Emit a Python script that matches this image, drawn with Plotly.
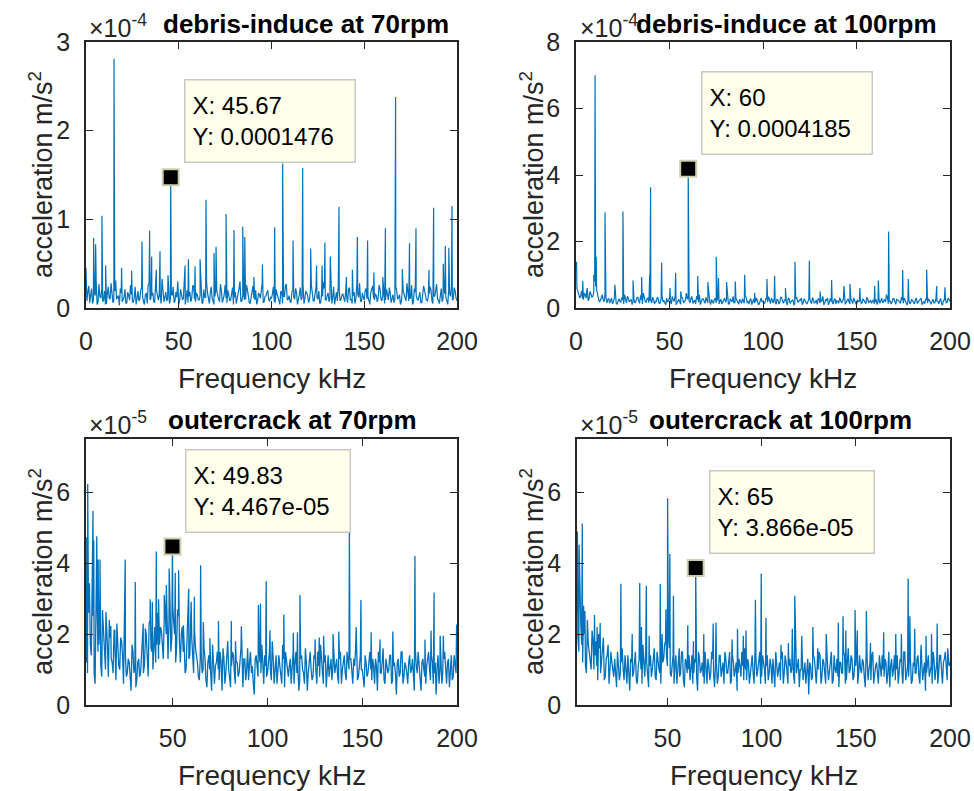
import numpy as np
import plotly.graph_objects as go

W, H = 974, 791
FONT = "Liberation Sans, Arial, Helvetica, sans-serif"
LINE_COLOR = "#0072BD"
AX_COLOR = "#262626"

# ------------------------------------------------------------------ data
# Spectra on a 0.5 kHz grid: "base" values sit on whole
# kHz, "mid" values on the half kHz, plus the tall individual peaks.
# Values are in hundredths of the axis unit (1e-4 top row, 1e-5 bottom row).
tl_f0 = 0
tl_base_centi = [
    45, 18, 6, 22, 9, 14, 4, 27, 11, 7, 19, 5, 24, 10, 16, 8, 31, 12, 3, 17,
    9, 21, 6, 14, 26, 8, 12, 4, 19, 10, 23, 7, 15, 5, 28, 11, 17, 6, 20, 9,
    13, 33, 7, 18, 10, 5, 16, 24, 8, 12, 4, 21, 9, 27, 14, 6, 18, 11, 25, 7,
    15, 9, 20, 5, 12, 29, 8, 17, 11, 4, 22, 13, 7, 19, 10, 26, 6, 14, 9, 23,
    12, 5, 18, 30, 8, 15, 10, 21, 6, 13, 25, 9, 4, 17, 11, 28, 7, 14, 20, 8,
    11, 24, 6, 16, 9, 19, 5, 13, 27, 10, 7, 18, 12, 22, 4, 15, 9, 26, 11, 17,
    6, 20, 13, 8, 24, 10, 5, 16, 29, 9, 14, 7, 21, 12, 4, 18, 25, 8, 15, 11,
    19, 6, 23, 10, 14, 5, 27, 12, 8, 17, 9, 22, 13, 4, 20, 11, 16, 7, 26, 10,
    14, 5, 21, 9, 17, 12, 6, 24, 10, 15, 7, 19, 13, 28, 8, 11, 4, 22, 14, 9,
    18, 6, 25, 11, 8, 16, 20, 5, 13, 27, 9, 15, 7, 21, 12, 4, 17, 24, 10, 19,
    8]
tl_mid_centi = [
    8, 25, 12, 5, 17, 30, 7, 13, 21, 9, 4, 16, 11, 28, 6, 19, 10, 14, 22, 7,
    12, 5, 18, 9, 15, 6, 24, 11, 8, 20, 13, 4, 17, 26, 9, 14, 7, 22, 11, 16,
    5, 19, 12, 8, 23, 10, 14, 6, 18, 30, 9, 15, 11, 4, 20, 13, 7, 25, 10, 17,
    9, 14, 6, 21, 12, 17, 5, 24, 8, 13, 19, 10, 27, 6, 15, 11, 20, 8, 16, 4,
    18, 10, 22, 7, 14, 9, 26, 12, 5, 17, 11, 20, 8, 15, 24, 6, 13, 19, 9, 12,
    16, 7, 21, 11, 4, 18, 13, 25, 9, 14, 6, 20, 10, 17, 8, 23, 12, 5, 19, 14,
    10, 26, 8, 15, 12, 19, 6, 13, 22, 9, 17, 11, 5, 24, 14, 8, 20, 10, 16, 7,
    13, 21, 9, 5, 18, 11, 15, 28, 7, 12, 20, 10, 6, 17, 25, 9, 14, 11, 22, 8,
    17, 9, 13, 23, 6, 15, 10, 19, 12, 4, 21, 14, 8, 16, 11, 26, 7, 18, 10, 13,
    6, 15, 20, 9, 12, 24, 8, 14, 18, 10, 5, 22, 11, 16, 7, 19, 13, 9, 23, 11]
tl_peak_f = [4.1, 5.2, 8.6, 10.6, 15.1, 19.2, 24.6, 30.2, 34.3, 35.4,
             37.9, 39.9, 44.2, 45.67, 53.4, 55.2, 58.8, 61.5, 64.7, 69.0,
             70.1, 75.5, 79.8, 84.5, 85.6, 90.5, 95.1, 101.7, 106.0, 111.6,
             116.8, 121.1, 124.3, 127.3, 128.8, 131.7, 136.4, 140.4, 143.6, 146.3,
             151.8, 155.2, 160.0, 161.4, 166.9, 170.5, 174.4, 177.9, 184.9, 187.4,
             192.6, 193.7, 195.6, 197.3]
tl_peak_v = [0.79, 0.72, 1.04, 0.48, 2.81, 0.45, 0.42, 0.75, 0.87, 0.58,
             0.43, 0.64, 0.37, 1.476, 0.48, 0.55, 0.47, 0.55, 1.22, 0.62,
             0.69, 1.06, 0.88, 0.92, 0.80, 0.35, 0.49, 0.91, 1.63, 0.76,
             1.58, 0.67, 0.48, 0.48, 0.74, 0.58, 1.14, 0.35, 0.43, 0.80,
             0.76, 0.40, 0.35, 0.90, 2.38, 0.44, 0.73, 0.90, 0.43, 1.13,
             0.50, 0.70, 0.68, 1.15]

tr_f0 = 0
tr_base_centi = [
    120, 45, 30, 52, 25, 38, 60, 28, 42, 35, 80, 55, 30, 22, 40, 18, 33, 26, 15, 30,
    20, 35, 12, 28, 18, 24, 40, 15, 30, 22, 10, 26, 19, 33, 14, 25, 45, 20, 28, 16,
    24, 32, 12, 20, 27, 15, 35, 22, 10, 18, 29, 14, 24, 38, 17, 26, 11, 30, 20, 45,
    28, 16, 34, 20, 12, 25, 40, 18, 27, 14, 22, 31, 10, 19, 26, 15, 33, 21, 12, 24,
    17, 30, 13, 22, 35, 16, 25, 11, 20, 28, 14, 32, 19, 24, 10, 27, 18, 23, 12, 30,
    21, 15, 26, 34, 13, 20, 29, 11, 24, 17, 31, 14, 22, 9, 27, 19, 25, 12, 33, 18,
    23, 10, 28, 16, 21, 30, 13, 24, 18, 11, 26, 20, 35, 14, 22, 9, 29, 17, 24, 12,
    20, 31, 15, 26, 11, 22, 18, 28, 13, 24, 9, 19, 30, 16, 23, 12, 27, 20, 14, 25,
    18, 10, 29, 22, 15, 26, 40, 13, 21, 17, 28, 11, 24, 19, 32, 14, 23, 9, 27, 16,
    22, 12, 30, 18, 25, 10, 20, 28, 15, 23, 11, 26, 17, 21, 13, 29, 9, 24, 16, 30,
    20]
tr_mid_centi = [
    60, 40, 35, 28, 45, 30, 22, 50, 33, 48, 65, 35, 18, 30, 25, 40, 15, 28, 22, 12,
    28, 14, 25, 20, 32, 12, 22, 35, 18, 26, 20, 15, 30, 22, 38, 12, 24, 16, 30, 22,
    15, 26, 20, 33, 14, 28, 18, 12, 30, 24, 16, 35, 20, 10, 25, 18, 32, 15, 22, 28,
    20, 30, 14, 24, 36, 17, 10, 28, 22, 32, 15, 20, 26, 14, 30, 22, 12, 26, 18, 30,
    25, 12, 28, 18, 15, 30, 20, 26, 14, 22, 35, 17, 12, 28, 20, 15, 30, 11, 25, 19,
    13, 28, 18, 22, 30, 15, 20, 26, 12, 32, 20, 25, 16, 30, 14, 22, 10, 28, 20, 24,
    30, 16, 20, 12, 26, 18, 32, 14, 24, 28, 15, 22, 10, 26, 30, 17, 20, 12, 28, 22,
    14, 24, 20, 32, 17, 28, 12, 22, 30, 16, 25, 20, 14, 28, 18, 32, 15, 24, 20, 12,
    26, 20, 14, 30, 24, 18, 32, 20, 12, 28, 16, 26, 20, 14, 24, 30, 16, 20, 12, 25,
    18, 26, 14, 22, 30, 16, 12, 24, 28, 18, 22, 14, 30, 20, 26, 12, 22, 28, 18, 24]
tr_peak_f = [0.3, 3.6, 5.7, 9.5, 10.2, 10.8, 15.5, 20.8, 25.1, 30.5,
             35.1, 39.4, 39.9, 45.8, 50.3, 53.3, 56.0, 60.0, 65.1, 70.5,
             75.0, 76.2, 80.5, 85.2, 90.2, 95.5, 102.1, 106.2, 112.0, 117.1,
             124.8, 130.5, 136.7, 143.3, 146.5, 151.8, 159.7, 161.7, 167.2, 174.7,
             177.7, 187.5, 192.9, 197.3]
tr_peak_v = [1.39, 0.82, 0.50, 1.00, 7.00, 1.54, 2.88, 0.70, 2.90, 0.83,
             0.93, 1.00, 3.63, 1.36, 0.60, 1.06, 0.50, 4.185, 0.96, 0.78,
             1.54, 0.90, 0.78, 0.80, 1.00, 0.45, 0.87, 0.97, 0.60, 1.39,
             1.42, 0.50, 0.84, 0.66, 0.72, 0.60, 0.66, 0.83, 2.30, 1.14,
             0.87, 1.16, 0.66, 0.62]

bl_f0 = 4
bl_base_centi = [
    210, 90, 300, 140, 250, 60, 320, 170, 110, 260,
    150, 230, 80, 190, 120, 210, 70, 160, 100, 180,
    60, 140, 90, 120, 40, 150, 110, 70, 130, 90,
    170, 110, 200, 80, 240, 150, 190, 120, 260, 170,
    210, 130, 270, 180, 240, 150, 280, 200, 160, 250,
    120, 220, 170, 100, 230, 140, 190, 90, 160, 120,
    70, 150, 100, 130, 50, 140, 90, 170, 60, 120,
    100, 150, 40, 130, 90, 180, 70, 110, 140, 60,
    120, 90, 160, 50, 130, 100, 70, 150, 110, 30,
    140, 80, 120, 170, 60, 110, 90, 150, 70, 130,
    100, 60, 140, 90, 170, 50, 120, 80, 130, 100,
    60, 150, 110, 70, 140, 90, 160, 40, 120, 100,
    80, 130, 60, 110, 170, 90, 120, 50, 140, 100,
    70, 160, 110, 80, 130, 60, 120, 90, 150, 100,
    130, 60, 110, 170, 80, 140, 100, 50, 120, 90,
    150, 70, 110, 130, 40, 120, 90, 160, 60, 110,
    100, 140, 70, 120, 30, 130, 90, 150, 80, 110,
    60, 140, 100, 70, 160, 90, 120, 40, 130, 80,
    110, 150, 70, 120, 90, 30, 140, 100, 60, 130,
    90, 120, 50, 140, 80, 110, 150]
bl_mid_centi = [
    120, 260, 170, 330, 90, 280, 150, 240, 80, 190,
    100, 170, 240, 130, 90, 160, 230, 110, 190, 140,
    200, 80, 130, 60, 170, 90, 50, 120, 80, 150,
    90, 180, 130, 230, 160, 100, 220, 170, 130, 220,
    170, 250, 200, 130, 300, 190, 230, 120, 270, 180,
    200, 150, 90, 180, 130, 250, 110, 210, 140, 80,
    130, 90, 160, 70, 120, 100, 40, 130, 110, 150,
    70, 120, 160, 60, 140, 100, 50, 150, 90, 120,
    80, 140, 100, 130, 70, 160, 120, 90, 60, 130,
    110, 160, 90, 120, 140, 80, 130, 100, 180, 60,
    140, 90, 110, 60, 130, 150, 90, 110, 60, 150,
    120, 90, 40, 130, 100, 60, 120, 90, 150, 70,
    140, 100, 150, 80, 120, 60, 140, 100, 80, 130,
    110, 90, 130, 60, 150, 100, 140, 70, 110, 130,
    90, 130, 160, 70, 120, 100, 60, 140, 80, 120,
    100, 130, 60, 110, 150, 90, 120, 70, 130, 90,
    140, 60, 110, 90, 120, 80, 150, 60, 120, 90,
    120, 90, 130, 40, 110, 150, 80, 120, 100, 60,
    130, 100, 140, 60, 120, 110, 60, 130, 90, 150,
    60, 130, 100, 70, 140, 90]
bl_peak_f = [4.3, 4.6, 5.1, 6.0, 7.9, 8.3, 9.9, 10.6, 11.6, 12.9,
             14.7, 17.3, 19.4, 24.9, 30.2, 34.4, 35.5, 38.1, 39.2, 41.3,
             42.5, 45.5, 46.6, 48.1, 49.83, 51.3, 53.1, 55.6, 58.4, 59.7,
             61.4, 64.7, 66.1, 69.6, 74.1, 80.9, 83.1, 86.2, 95.2, 96.3,
             99.3, 101.3, 108.6, 113.6, 115.8, 117.1, 125.1, 127.3, 129.6, 134.6,
             137.6, 143.2, 146.8, 149.3, 154.7, 159.4, 166.1, 177.8, 183.1, 186.3,
             187.9, 191.1, 192.8, 199.8]
bl_peak_v = [2.96, 4.73, 6.23, 3.43, 5.47, 4.63, 4.76, 4.10, 4.10, 2.68,
             2.63, 2.23, 2.11, 4.10, 3.47, 2.30, 2.16, 2.98, 2.91, 4.33,
             2.98, 3.10, 3.38, 3.85, 4.467, 3.73, 3.80, 2.25, 3.28, 2.91,
             3.05, 3.94, 2.34, 1.88, 2.37, 2.37, 1.80, 2.22, 2.82, 2.86,
             3.49, 2.11, 2.55, 2.04, 2.05, 3.10, 1.85, 1.90, 1.95, 2.00,
             2.07, 4.88, 2.20, 2.96, 2.05, 1.85, 2.07, 4.20, 1.85, 2.10,
             3.17, 1.95, 1.95, 2.27]

br_f0 = 2
br_base_centi = [
    260, 150, 230, 120, 200, 90, 170, 130, 210, 100,
    180, 70, 160, 120, 190, 80, 140, 60, 150, 100,
    130, 50, 120, 90, 160, 70, 110, 140, 40, 120,
    90, 150, 60, 130, 100, 170, 80, 120, 50, 140,
    100, 160, 70, 120, 90, 150, 130, 180, 110, 160,
    80, 140, 110, 60, 130, 90, 150, 50, 120, 100,
    70, 140, 90, 120, 40, 130, 100, 80, 150, 60,
    110, 90, 130, 50, 120, 80, 140, 100, 60, 130,
    90, 150, 70, 120, 100, 40, 130, 80, 110, 160,
    70, 120, 90, 140, 60, 130, 100, 150, 80, 120,
    60, 140, 90, 110, 130, 50, 120, 100, 70, 150,
    90, 120, 60, 130, 100, 80, 140, 110, 50, 100,
    70, 120, 90, 30, 110, 80, 130, 60, 100, 140,
    80, 120, 60, 110, 90, 150, 70, 100, 130, 50,
    120, 90, 140, 70, 160, 100, 130, 80, 110, 60,
    140, 90, 120, 50, 130, 100, 70, 150, 90, 120,
    60, 110, 140, 80, 120, 90, 50, 130, 100, 70,
    140, 90, 120, 60, 150, 100, 80, 130, 70, 110,
    90, 140, 60, 120, 100, 40, 130, 80, 110, 150,
    70, 120, 90, 140, 60, 130, 100, 150, 120]
br_mid_centi = [
    190, 320, 170, 280, 110, 240, 150, 100, 180, 140,
    110, 200, 90, 150, 70, 130, 170, 100, 120, 80,
    90, 150, 70, 120, 100, 140, 60, 90, 130, 80,
    130, 70, 110, 150, 60, 120, 160, 90, 110, 80,
    130, 80, 150, 100, 60, 120, 170, 140, 200, 90,
    120, 60, 140, 100, 80, 150, 70, 130, 90, 140,
    110, 60, 130, 80, 150, 90, 120, 60, 110, 130,
    70, 150, 90, 110, 60, 140, 80, 120, 150, 90,
    120, 60, 140, 80, 120, 90, 110, 150, 70, 100,
    130, 60, 110, 90, 150, 80, 120, 60, 140, 100,
    110, 70, 130, 60, 90, 150, 80, 120, 130, 60,
    140, 80, 110, 90, 150, 60, 90, 130, 100, 150,
    100, 60, 130, 120, 70, 140, 100, 110, 150, 60,
    130, 90, 150, 70, 120, 60, 140, 90, 80, 120,
    90, 150, 60, 120, 90, 140, 70, 130, 150, 90,
    100, 130, 80, 150, 70, 120, 140, 60, 110, 80,
    140, 80, 100, 130, 60, 150, 110, 80, 140, 100,
    60, 130, 90, 150, 70, 110, 140, 60, 120, 90,
    130, 80, 150, 70, 120, 90, 140, 100, 60, 130,
    100, 60, 140, 80, 120, 150, 70, 110]
br_peak_f = [2.2, 3.1, 4.8, 6.2, 7.7, 11.3, 12.7, 14.3, 25.3, 31.3,
             35.3, 36.2, 38.8, 40.3, 46.2, 47.2, 49.2, 50.1, 51.3, 53.2,
             56.3, 60.8, 63.8, 65.0, 69.3, 74.3, 75.8, 84.3, 87.2, 90.3,
             91.7, 96.7, 99.8, 102.3, 110.3, 114.2, 116.3, 117.6, 121.3, 127.2,
             129.8, 134.3, 140.7, 143.2, 144.7, 149.6, 150.8, 155.6, 157.8, 164.8,
             171.2, 174.2, 177.8, 178.7, 181.3, 184.7, 187.3, 190.2, 193.2, 198.8]
br_peak_v = [4.89, 4.52, 5.12, 2.65, 2.00, 2.54, 2.20, 2.31, 3.42, 2.00,
             3.44, 2.20, 3.36, 1.95, 3.41, 2.00, 2.70, 5.83, 4.26, 3.08,
             1.60, 2.25, 1.80, 3.866, 2.00, 2.30, 2.32, 1.85, 2.15, 1.95,
             2.10, 2.97, 3.71, 2.45, 1.70, 1.75, 2.15, 3.08, 1.95, 2.20,
             1.60, 2.00, 2.32, 2.50, 2.10, 2.68, 2.10, 2.65, 1.75, 2.05,
             2.00, 2.00, 3.57, 2.50, 2.15, 1.70, 1.95, 2.00, 2.30, 1.60]

titles = ["debris-induce at 70rpm", "debris-induce at 100rpm",
          "outercrack at 70rpm", "outercrack at 100rpm"]
exponents = ["-4", "-4", "-5", "-5"]
x_ranges = [[0, 200], [0, 200], [4.2, 200], [2, 200]]
x_ticks = [[0, 50, 100, 150, 200], [0, 50, 100, 150, 200],
           [50, 100, 150, 200], [50, 100, 150, 200]]
y_ranges = [[0, 3], [0, 8], [0, 7.5], [0, 7.5]]
y_ticks = [[0, 1, 2, 3], [0, 2, 4, 6, 8], [0, 2, 4, 6], [0, 2, 4, 6]]
tip_x = [45.67, 60, 49.83, 65]
tip_y = [1.476, 4.185, 4.467, 3.866]          # in axis units
tip_lines = [("X: 45.67", "Y: 0.0001476"), ("X: 60", "Y: 0.0004185"),
             ("X: 49.83", "Y: 4.467e-05"), ("X: 65", "Y: 3.866e-05")]
x_label = "Frequency kHz"
y_label = "acceleration m/s<sup>2</sup>"

series_data = [
    (tl_f0, tl_base_centi, tl_mid_centi, tl_peak_f, tl_peak_v),
    (tr_f0, tr_base_centi, tr_mid_centi, tr_peak_f, tr_peak_v),
    (bl_f0, bl_base_centi, bl_mid_centi, bl_peak_f, bl_peak_v),
    (br_f0, br_base_centi, br_mid_centi, br_peak_f, br_peak_v),
]

# ------------------------------------------------------------------ layout (pixels)
axes_px = [(86, 457, 42, 308), (576, 950, 42, 308),
           (86, 457, 439, 705), (577, 950, 439, 705)]
title_pos = [(306, 24), (786, 24), (292, 420), (780, 420)]
exp_pos = [(87, 26), (578, 26), (87, 423), (578, 423)]
ylab_x = [41, 532, 41, 532]
xlab_dy = 70
tip_box_w = [172, 172, 166, 166]
line_w = [1.2, 1.2, 1.3, 1.3]


def build(f0, base_centi, mid_centi, pf, pv):
    fb = np.arange(len(base_centi)) + f0
    fm = np.arange(len(mid_centi)) + f0 + 0.5
    ff = np.concatenate([fb, fm, np.asarray(pf, dtype=float)])
    vv = np.concatenate([np.asarray(base_centi, dtype=float) / 100.0,
                         np.asarray(mid_centi, dtype=float) / 100.0,
                         np.asarray(pv, dtype=float)])
    order = np.argsort(ff, kind="stable")
    return ff[order], vv[order]


fig = go.Figure()
annotations = []
layout_axes = {}

for i in range(4):
    n = "" if i == 0 else str(i + 1)
    xa, ya = "x" + n, "y" + n
    x0, x1, y0, y1 = axes_px[i]
    f, v = build(*series_data[i])
    fig.add_trace(go.Scatter(x=f, y=v, mode="lines", xaxis=xa, yaxis=ya,
                             line=dict(color=LINE_COLOR, width=line_w[i]),
                             hoverinfo="skip", showlegend=False))
    fig.add_trace(go.Scatter(x=[tip_x[i]], y=[tip_y[i]], mode="markers",
                             xaxis=xa, yaxis=ya, showlegend=False,
                             marker=dict(symbol="square", size=16, color="black",
                                         line=dict(color="#cfcfae", width=2))))
    common = dict(ticks="inside", ticklen=7, tickwidth=1.3, tickcolor=AX_COLOR,
                  showline=True, linecolor=AX_COLOR, linewidth=1.8,
                  mirror="allticks", showgrid=False, zeroline=False,
                  automargin=False,
                  tickfont=dict(family=FONT, size=25, color=AX_COLOR),
                  fixedrange=True)
    layout_axes["xaxis" + n] = dict(domain=[x0 / W, x1 / W], anchor=ya,
                                    range=x_ranges[i], tickvals=x_ticks[i],
                                    ticklabelstandoff=10, **common)
    layout_axes["yaxis" + n] = dict(domain=[1 - y1 / H, 1 - y0 / H], anchor=xa,
                                    range=y_ranges[i], tickvals=y_ticks[i],
                                    ticklabelstandoff=9, **common)

    # title
    tx, ty = title_pos[i]
    annotations.append(dict(text="<b>%s</b>" % titles[i], x=tx / W, y=1 - ty / H,
                            xref="paper", yref="paper", showarrow=False,
                            xanchor="center", yanchor="middle",
                            font=dict(family=FONT, size=26, color="black")))
    # exponent
    ex, ey = exp_pos[i]
    annotations.append(dict(text="\u00d710<sup>%s</sup>" % exponents[i],
                            x=ex / W, y=1 - ey / H, xref="paper", yref="paper",
                            showarrow=False, xanchor="left", yanchor="middle",
                            font=dict(family=FONT, size=25, color=AX_COLOR)))
    # y label
    annotations.append(dict(text=y_label, x=ylab_x[i] / W,
                            y=1 - ((y0 + y1) / 2) / H, xref="paper", yref="paper",
                            showarrow=False, textangle=-90,
                            xanchor="center", yanchor="middle",
                            font=dict(family=FONT, size=27, color=AX_COLOR)))
    # x label
    annotations.append(dict(text=x_label, x=((x0 + x1) / 2) / W,
                            y=1 - (y1 + xlab_dy) / H, xref="paper", yref="paper",
                            showarrow=False, xanchor="center", yanchor="middle",
                            font=dict(family=FONT, size=28, color=AX_COLOR)))
    # data tip box
    bw = tip_box_w[i]
    annotations.append(dict(text="<br>".join(tip_lines[i]), x=tip_x[i], y=tip_y[i],
                            xref=xa, yref=ya, showarrow=False,
                            xanchor="left", yanchor="bottom", xshift=13, yshift=14,
                            align="left", valign="middle",
                            width=bw - 17, height=84 - 17,
                            bgcolor="rgb(255,255,236)", bordercolor="rgb(200,200,196)",
                            borderwidth=1.5, borderpad=7,
                            font=dict(family=FONT, size=24, color="black")))

fig.update_layout(width=W, height=H, autosize=False,
                  margin=dict(l=0, r=0, t=0, b=0, pad=0, autoexpand=False),
                  paper_bgcolor="white", plot_bgcolor="white",
                  showlegend=False, annotations=annotations, **layout_axes)

fig.write_html("out.html", config={"displayModeBar": False},
               post_script="document.body.style.margin='0px';"
                           "document.body.style.overflow='hidden';")
